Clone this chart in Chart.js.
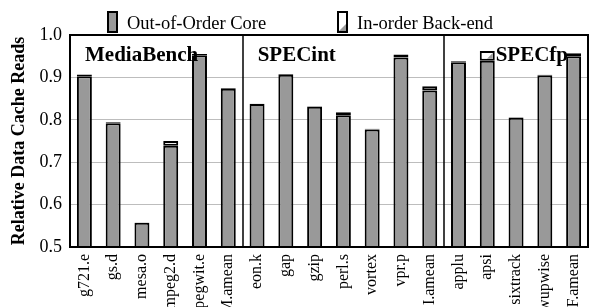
<!DOCTYPE html>
<html>
<head>
<meta charset="utf-8">
<script src="https://cdn.jsdelivr.net/npm/chart.js@4"></script>
<style>
  html, body { margin: 0; padding: 0; background: #fff; }
</style>
</head>
<body>
<canvas id="chart" width="591" height="307"></canvas>
<script>
// data
const benchmarks = [
    "g721.e", "gs.d", "mesa.o", "mpeg2.d", "pegwit.e", "M.amean",
    "eon.k", "gap", "gzip", "perl.s", "vortex", "vpr.p", "I.amean",
    "applu", "apsi", "sixtrack", "wupwise", "F.amean"
];
const outOfOrder = [
    0.903, 0.792, 0.557, 0.739, 0.952, 0.873,
    0.837, 0.906, 0.831, 0.811, 0.777, 0.947, 0.869,
    0.936, 0.939, 0.805, 0.905, 0.950
];
const inOrder = [
    0.907, 0.794, 0.558, 0.750, 0.955, 0.875,
    0.838, 0.908, 0.832, 0.818, 0.779, 0.954, 0.879,
    0.938, 0.962, 0.806, 0.906, 0.957
];
const seriesNames = ["Out-of-Order Core", "In-order Back-end"];
const groupNames = ["MediaBench", "SPECint", "SPECfp"];
const yTicks = [0.5, 0.6, 0.7, 0.8, 0.9, 1.0];

const SERIF = "'Liberation Serif', 'Times New Roman', serif";
const GREY = "#999999";

// in-order bar is drawn as the extra height above the OoO bar
const inOrderExtra = inOrder.map((v, i) => +(v - outOfOrder[i]).toFixed(4));

// white box with grey corner triangle (legend + in-order segments)
function hatchBox(ctx, left, top, right, bottom) {
    const w = right - left, h = bottom - top;
    if (h < 1 || w < 1) return;
    const s = Math.min(w, h);
    ctx.fillStyle = GREY;
    ctx.beginPath();
    ctx.moveTo(right, bottom - s);
    ctx.lineTo(right, bottom);
    ctx.lineTo(right - s, bottom);
    ctx.closePath();
    ctx.fill();
}

const decorPlugin = {
    id: "decor",
    afterDatasetsDraw(chart) {
        const { ctx, chartArea: a, scales: { x } } = chart;
        ctx.save();

        // triangles inside the in-order segments
        chart.getDatasetMeta(1).data.forEach((bar) => {
            const p = bar.getProps(["x", "y", "base", "width"], true);
            hatchBox(ctx, p.x - p.width / 2 + 2, p.y + 2, p.x + p.width / 2 - 2, p.base - 2);
        });

        // group separators
        ctx.strokeStyle = "#000";
        ctx.lineWidth = 1.5;
        [5.5, 12.5].forEach((v) => {
            const px = Math.round(x.getPixelForValue(v));
            ctx.beginPath();
            ctx.moveTo(px, a.top);
            ctx.lineTo(px, a.bottom);
            ctx.stroke();
        });

        // frame
        ctx.lineWidth = 2;
        ctx.strokeRect(a.left, a.top, a.right - a.left, a.bottom - a.top);

        // group titles
        ctx.fillStyle = "#000";
        ctx.font = "bold 21px " + SERIF;
        ctx.textAlign = "left";
        ctx.textBaseline = "alphabetic";
        const step = x.width / benchmarks.length;
        [0, 6, 14.27].forEach((v, i) => {
            const px = x.getPixelForValue(v) - step * 0.5 + 15;
            ctx.fillText(groupNames[i], px, 61);
        });
        ctx.restore();
    },
    afterDraw(chart) {
        const { ctx } = chart;
        ctx.save();
        ctx.font = "18.5px " + SERIF;
        ctx.textBaseline = "alphabetic";
        const items = [{ x: 108, fill: "solid" }, { x: 338, fill: "hatch" }];
        items.forEach((it, i) => {
            ctx.fillStyle = it.fill === "solid" ? GREY : "#fff";
            ctx.fillRect(it.x, 12, 9, 20);
            if (it.fill === "hatch") hatchBox(ctx, it.x + 1, 13, it.x + 8, 31);
            ctx.strokeStyle = "#000";
            ctx.lineWidth = 2;
            ctx.strokeRect(it.x, 12, 9, 20);
            ctx.fillStyle = "#000";
            ctx.fillText(seriesNames[i], it.x + 19, 29);
        });
        ctx.restore();
    }
};

const barStyle = {
    borderColor: "#000",
    borderWidth: 2,
    borderSkipped: false,
    barPercentage: 0.52,
    categoryPercentage: 1.0,
};

new Chart(document.getElementById("chart"), {
    type: "bar",
    data: {
        labels: benchmarks,
        datasets: [
            { label: seriesNames[0], data: outOfOrder, backgroundColor: GREY, ...barStyle },
            { label: seriesNames[1], data: inOrderExtra, backgroundColor: "#fff", ...barStyle },
        ],
    },
    options: {
        responsive: false,
        animation: false,
        devicePixelRatio: 1,
        layout: { padding: { top: 35, right: 3, left: 0, bottom: 0 } },
        plugins: {
            legend: { display: false },
            tooltip: { enabled: false },
        },
        scales: {
            x: {
                stacked: true,
                grid: { display: false, drawTicks: false },
                border: { display: false },
                ticks: {
                    autoSkip: false,
                    minRotation: 90,
                    maxRotation: 90,
                    padding: 7,
                    color: "#000",
                    font: { family: SERIF, size: 16 },
                },
                afterFit: (s) => {
                    s.height = 60;
                    s.paddingLeft = 0;
                    s.paddingRight = 0;
                },
            },
            y: {
                stacked: true,
                min: 0.5,
                max: 1.0,
                afterBuildTicks: (s) => { s.ticks = yTicks.map((v) => ({ value: v })); },
                grid: { color: "#bdbdbd", lineWidth: 1, drawTicks: false },
                border: { display: false },
                ticks: {
                    padding: 8,
                    color: "#000",
                    font: { family: SERIF, size: 18 },
                    callback: (v) => v.toFixed(1),
                },
                title: {
                    display: true,
                    text: "Relative Data Cache Reads",
                    color: "#000",
                    font: { family: SERIF, size: 18, weight: "bold" },
                    padding: { top: 9, bottom: 0 },
                },
                afterFit: (s) => {
                    s.width = 70;
                    s.paddingTop = 0;
                    s.paddingBottom = 0;
                },
            },
        },
    },
    plugins: [decorPlugin],
});
</script>
</body>
</html>
